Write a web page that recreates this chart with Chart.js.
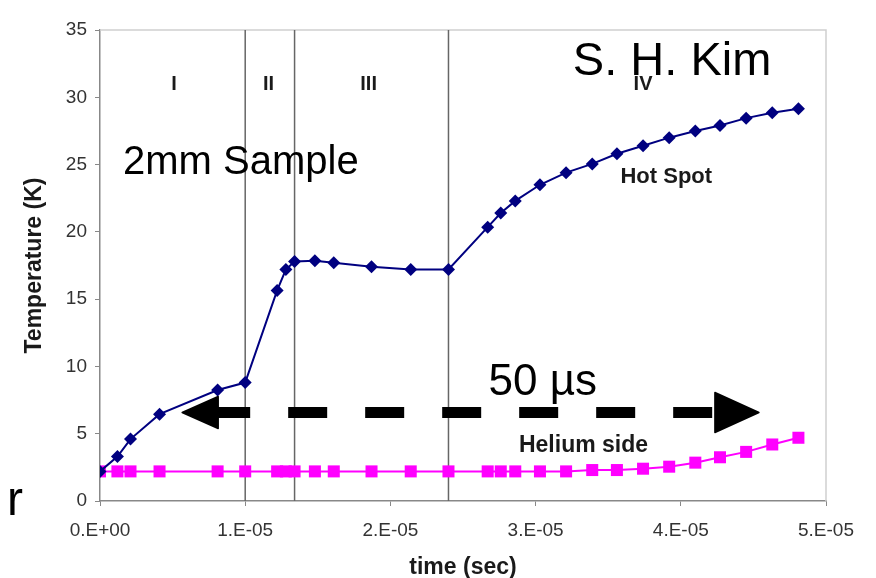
<!DOCTYPE html>
<html lang="en">
<head>
  <meta charset="UTF-8">
  <title>Hot spot temperature - 2mm sample</title>
  <script src="https://cdn.jsdelivr.net/npm/chart.js"></script>
  <style>
    html, body { margin: 0; padding: 0; background: #fff; }
    #wrap { width: 876px; height: 578px; position: relative; }
  </style>
</head>
<body>
  <div id="wrap"><canvas id="chart"></canvas></div>

  <script>
    // time points (sec), shared by both curves
    const times = [0, 0.12e-5, 0.21e-5, 0.41e-5, 0.81e-5, 1.0e-5, 1.22e-5, 1.28e-5, 1.34e-5, 1.48e-5,
                   1.61e-5, 1.87e-5, 2.14e-5, 2.4e-5, 2.67e-5, 2.76e-5, 2.86e-5, 3.03e-5, 3.21e-5, 3.39e-5,
                   3.56e-5, 3.74e-5, 3.92e-5, 4.1e-5, 4.27e-5, 4.45e-5, 4.63e-5, 4.81e-5];
    const hotSpot = [2.2, 3.3, 4.6, 6.45, 8.25, 8.8, 15.65, 17.2, 17.8, 17.85,
                     17.7, 17.4, 17.2, 17.2, 20.35, 21.4, 22.3, 23.5, 24.4, 25.05,
                     25.8, 26.4, 27.0, 27.5, 27.9, 28.45, 28.85, 29.15];
    const heliumSide = [2.2, 2.2, 2.2, 2.2, 2.2, 2.2, 2.2, 2.2, 2.2, 2.2,
                        2.2, 2.2, 2.2, 2.2, 2.2, 2.2, 2.2, 2.2, 2.2, 2.3,
                        2.3, 2.4, 2.55, 2.85, 3.25, 3.65, 4.2, 4.7];

    // phase boundaries and names
    const phaseBounds = [1.0e-5, 1.34e-5, 2.4e-5];
    const phaseNames = ['I', 'II', 'III', 'IV'];
    const phaseNameTimes = [0.51e-5, 1.16e-5, 1.85e-5, 3.74e-5];

    const xTickLabels = ['0.E+00', '1.E-05', '2.E-05', '3.E-05', '4.E-05', '5.E-05'];

    const FONT = "'Liberation Sans', Arial, sans-serif";

    // notes drawn on the plot, placed in data units
    const notes = [
      { text: 'Hot Spot', x: 3.9e-5, y: 24.05, font: 'bold 22px ' + FONT, color: '#1a1a1a' },
      { text: 'Helium side', x: 3.33e-5, y: 4.1, font: 'bold 23px ' + FONT, color: '#1a1a1a' },
      { text: '2mm Sample', x: 0.97e-5, y: 25.1, font: '40px ' + FONT, color: '#000' },
      { text: 'S. H. Kim', x: 3.94e-5, y: 32.6, font: '47px ' + FONT, color: '#000' },
      { text: '50 \u00b5s', x: 3.05e-5, y: 8.75, font: '44px ' + FONT, color: '#000' }
    ];

    const extras = {
      id: 'extras',
      beforeDatasetsDraw(chart) {
        const { ctx, chartArea: a, scales: { x, y } } = chart;
        ctx.save();
        // light frame top and right
        ctx.strokeStyle = '#cfcfcf';
        ctx.lineWidth = 1.5;
        ctx.beginPath();
        ctx.moveTo(a.left, a.top);
        ctx.lineTo(a.right, a.top);
        ctx.lineTo(a.right, a.bottom);
        ctx.stroke();
        // phase boundaries
        ctx.strokeStyle = '#666';
        ctx.lineWidth = 1.5;
        phaseBounds.forEach(t => {
          const px = x.getPixelForValue(t);
          ctx.beginPath();
          ctx.moveTo(px, a.top);
          ctx.lineTo(px, a.bottom);
          ctx.stroke();
        });
        // phase names
        ctx.fillStyle = '#1a1a1a';
        ctx.font = 'bold 20px ' + FONT;
        ctx.textAlign = 'center';
        ctx.textBaseline = 'middle';
        phaseNames.forEach((n, i) => {
          ctx.fillText(n, x.getPixelForValue(phaseNameTimes[i]), y.getPixelForValue(30.95));
        });
        ctx.restore();
      },
      afterDraw(chart) {
        const { ctx, scales: { x, y } } = chart;
        ctx.save();
        ctx.textAlign = 'center';
        ctx.textBaseline = 'middle';
        notes.forEach(n => {
          ctx.font = n.font;
          ctx.fillStyle = n.color;
          ctx.fillText(n.text, x.getPixelForValue(n.x), y.getPixelForValue(n.y));
        });

        // dashed double arrow (50 us span)
        const x0 = x.getPixelForValue(0.566e-5);
        const x1 = x.getPixelForValue(4.538e-5);
        const ay = y.getPixelForValue(6.58);
        ctx.strokeStyle = '#000';
        ctx.fillStyle = '#000';
        ctx.lineWidth = 11;
        ctx.setLineDash([39, 38]);
        ctx.beginPath();
        ctx.moveTo(x0 + 29, ay);
        ctx.lineTo(x1 - 44, ay);
        ctx.stroke();
        ctx.setLineDash([]);
        ctx.lineJoin = 'round';
        ctx.lineWidth = 1.5;
        ctx.beginPath();
        ctx.moveTo(x0, ay);
        ctx.lineTo(x0 + 36, ay - 16);
        ctx.lineTo(x0 + 36, ay + 16);
        ctx.closePath();
        ctx.fill();
        ctx.stroke();
        ctx.beginPath();
        ctx.moveTo(x1, ay);
        ctx.lineTo(x1 - 44, ay - 20);
        ctx.lineTo(x1 - 44, ay + 20);
        ctx.closePath();
        ctx.fill();
        ctx.stroke();

        // leftover slide letter
        ctx.font = '48px ' + FONT;
        ctx.textAlign = 'left';
        ctx.textBaseline = 'alphabetic';
        ctx.fillText('r', 7, 515);
        ctx.restore();
      }
    };

    const ctx = document.getElementById('chart').getContext('2d');
    new Chart(ctx, {
      type: 'line',
      data: {
        datasets: [
          {
            label: 'Hot Spot',
            data: times.map((t, i) => ({ x: t, y: hotSpot[i] })),
            borderColor: '#000080',
            backgroundColor: '#000080',
            borderWidth: 2,
            pointStyle: 'rectRot',
            pointRadius: 6.5,
            pointBorderWidth: 0,
            tension: 0
          },
          {
            label: 'Helium side',
            data: times.map((t, i) => ({ x: t, y: heliumSide[i] })),
            borderColor: '#ff00ff',
            backgroundColor: '#ff00ff',
            borderWidth: 2,
            pointStyle: 'rect',
            pointRadius: 8.5,
            pointBorderWidth: 0,
            tension: 0
          }
        ]
      },
      options: {
        responsive: true,
        maintainAspectRatio: false,
        animation: false,
        layout: { padding: { left: 0, top: 30, right: 50, bottom: 0 } },
        plugins: {
          legend: { display: false },
          tooltip: { enabled: false }
        },
        scales: {
          x: {
            type: 'linear',
            min: 0,
            max: 5e-5,
            afterFit(s) { s.height = 77; },
            afterBuildTicks(s) { s.ticks = xTickLabels.map((l, i) => ({ value: i * 1e-5 })); },
            ticks: {
              callback: (v, i) => xTickLabels[i],
              font: { family: FONT, size: 19 },
              color: '#333',
              padding: 13,
              maxRotation: 0
            },
            grid: { drawOnChartArea: false, tickLength: 5, color: '#888' },
            border: { color: '#888', width: 1.5 },
            title: {
              display: true,
              text: 'time (sec)',
              font: { family: FONT, size: 23, weight: 'bold' },
              color: '#1a1a1a',
              padding: { top: 0, bottom: -3 }
            }
          },
          y: {
            min: 0,
            max: 35,
            afterFit(s) { s.width = 100; },
            ticks: {
              stepSize: 5,
              font: { family: FONT, size: 19 },
              color: '#333',
              padding: 8
            },
            grid: { drawOnChartArea: false, tickLength: 5, color: '#888' },
            border: { color: '#888', width: 1.5 },
            title: {
              display: true,
              text: 'Temperature (K)',
              font: { family: FONT, size: 23, weight: 'bold' },
              color: '#1a1a1a',
              padding: { top: 21, bottom: 0 }
            }
          }
        }
      },
      plugins: [extras]
    });
  </script>
</body>
</html>
